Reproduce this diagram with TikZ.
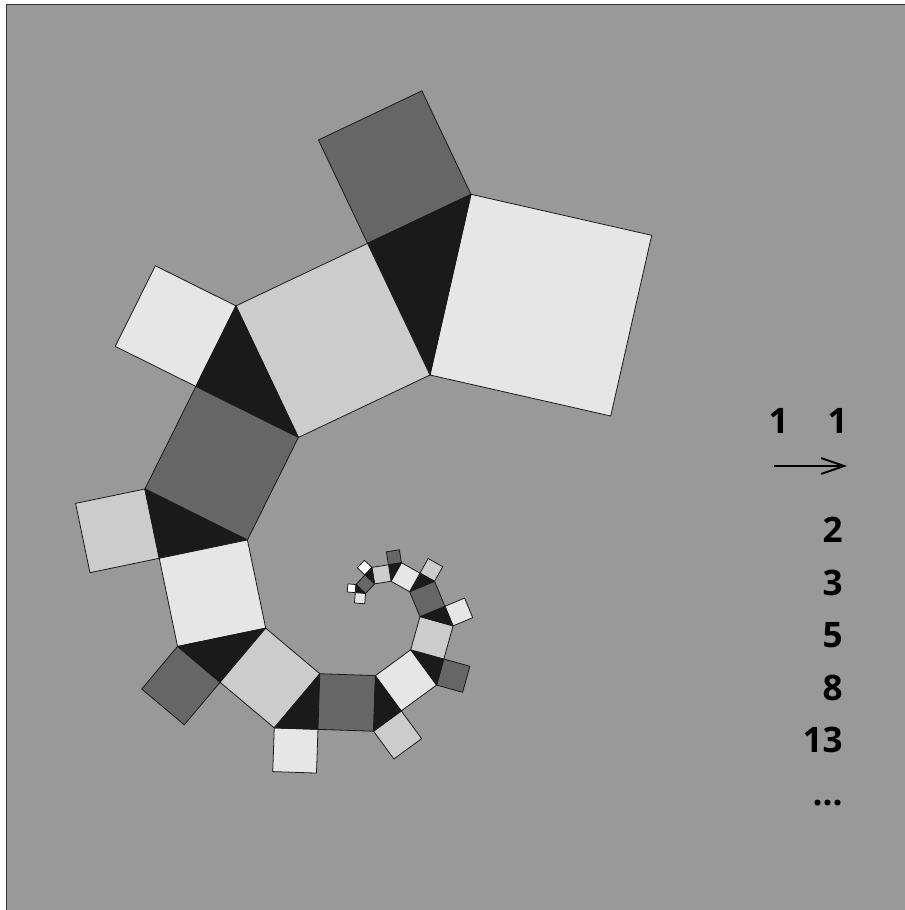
\documentclass[tikz,border=0pt]{standalone}
\usepackage{fontspec}
\newfontfamily\numfont{Open Sans}
\usetikzlibrary{calc,arrows.meta}
\definecolor{bggray}{HTML}{999999}
\definecolor{shade0}{HTML}{E6E6E6}
\definecolor{shade1}{HTML}{CCCCCC}
\definecolor{shade2}{HTML}{666666}
\definecolor{shade3}{HTML}{FFFFFF}
\definecolor{triblack}{HTML}{1A1A1A}

\begin{document}
\begin{tikzpicture}[x=0.02cm, y=-0.02cm,
  >={Straight Barb[length=13pt, width=9pt]},
  tile/.style={draw=black!90, line width=0.45pt, line join=round},
  num/.style={font=\numfont\bfseries\fontsize{20}{24}\selectfont,
              anchor=base east, inner sep=0pt}]
  \useasboundingbox (0,0) rectangle (905,910);
  \fill[bggray] (6.5,4.5) rectangle (905,910);
  \draw[black!80, line width=1pt] (6.5,910) -- (6.5,4.5) -- (905,4.5);

  % biggest square, then the spiral
  \coordinate (A0) at (471,194.3);
  \coordinate (D0) at (430,375);
  \filldraw[tile, fill=shade0] (A0) -- ($(A0)!1!90:(D0)$)
    -- ($(D0)!1!-90:(A0)$) -- (D0) -- cycle;
  \foreach \i [count=\j] in {0,...,11} {
    \pgfmathtruncatemacro\sc{mod(\j,3)}
    \pgfmathtruncatemacro\lc{\i>9 ? 3 : mod(\i+2,3)}
    \coordinate (R\i) at ($(A\i)!0.618034!-51.8273:(D\i)$);
    \coordinate (A\j) at ($(R\i)!1!-90:(D\i)$);
    \coordinate (D\j) at ($(D\i)!1!90:(R\i)$);
    \filldraw[tile, fill=shade\lc] (A\i) -- ($(A\i)!1!-90:(R\i)$)
      -- ($(R\i)!1!90:(A\i)$) -- (R\i) -- cycle;
    \filldraw[tile, fill=triblack] (A\i) -- (R\i) -- (D\i) -- cycle;
    \filldraw[tile, fill=shade\sc] (R\i) -- (D\i) -- (D\j) -- (A\j) -- cycle;
  }

  % numbers
  \node[num] (oneL) at (789,433) {1};
  \node[num] (oneR) at (848,433) {1};
  \coordinate (arrL) at (774,466);
  \coordinate (arrR) at (847,466);
  \draw[->, line width=1.1pt] (arrL) -- (arrR);
  \foreach \v/\y in {2/542, 3/595, 5/647, 8/700, 13/752}
    \node[num] (fib\v) at (843,\y) {\v};
  \node[num] (dots) at (843,805) {...};
\end{tikzpicture}
\end{document}
